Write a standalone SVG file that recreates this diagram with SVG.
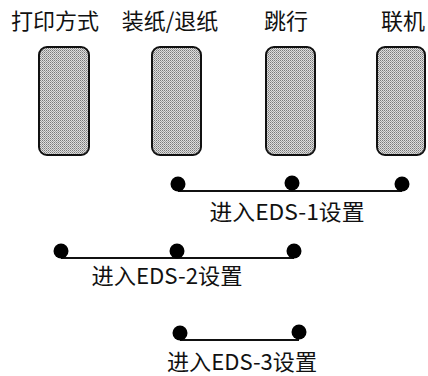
<svg xmlns="http://www.w3.org/2000/svg" width="428" height="376" viewBox="0 0 428 376">
<style>
.lbl{font-family:"Noto Sans CJK SC","Noto Sans",sans-serif;font-size:22px;fill:#111;text-anchor:middle}
.btn{fill:url(#dots);stroke:#111;stroke-width:2}
.wire{stroke:#111;stroke-width:2;fill:none}
.dot{fill:#000}
</style>
<defs>
<pattern id="dots" width="2" height="2" patternUnits="userSpaceOnUse">
<rect width="2" height="2" fill="#dedede"/>
<rect x="0" y="0" width="1" height="1" fill="#7a7a7a"/>
<rect x="1" y="1" width="1" height="1" fill="#a0a0a0"/>
</pattern>
</defs>
<rect width="428" height="376" fill="#fff"/>
<g id="btn-print">
<text class="lbl" x="55" y="29">打印方式</text>
<rect class="btn" x="39" y="47" width="50" height="108" rx="8"/>
</g>
<g id="btn-load">
<text class="lbl" x="170" y="29">装纸/退纸</text>
<rect class="btn" x="152" y="47" width="49" height="108" rx="8"/>
</g>
<g id="btn-feed">
<text class="lbl" x="286" y="29">跳行</text>
<rect class="btn" x="266" y="47" width="49" height="108" rx="8"/>
</g>
<g id="btn-online">
<text class="lbl" x="403" y="29">联机</text>
<rect class="btn" x="377" y="47" width="48" height="108" rx="8"/>
</g>
<g id="connectors">
<line class="wire" x1="178" y1="191" x2="402" y2="191"/>
<circle class="dot" cx="178" cy="184" r="7.5"/>
<circle class="dot" cx="292" cy="183" r="7.5"/>
<circle class="dot" cx="402" cy="184" r="7.5"/>
<line class="wire" x1="61" y1="258" x2="294" y2="258"/>
<circle class="dot" cx="61" cy="251" r="7.5"/>
<circle class="dot" cx="177" cy="251" r="7.5"/>
<circle class="dot" cx="294" cy="251" r="7.5"/>
<line class="wire" x1="180" y1="340" x2="299" y2="340"/>
<circle class="dot" cx="180" cy="333" r="7.5"/>
<circle class="dot" cx="299" cy="332" r="7.5"/>
</g>
<g id="eds1"><text class="lbl" x="287" y="220" textLength="155" lengthAdjust="spacingAndGlyphs">进入EDS-1设置</text></g>
<g id="eds2"><text class="lbl" x="167" y="284" textLength="151" lengthAdjust="spacingAndGlyphs">进入EDS-2设置</text></g>
<g id="eds3"><text class="lbl" x="242" y="370" textLength="150" lengthAdjust="spacingAndGlyphs">进入EDS-3设置</text></g>
</svg>
